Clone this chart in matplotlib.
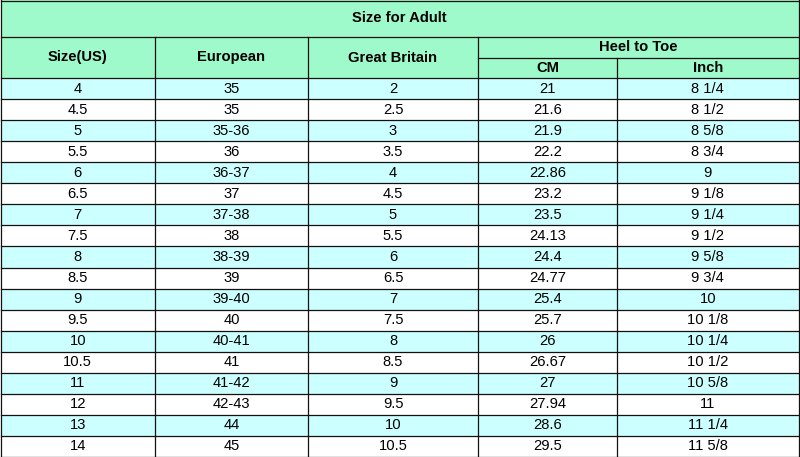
import matplotlib.pyplot as plt
from matplotlib.patches import Rectangle

title = "Size for Adult"
headers = ["Size(US)", "European", "Great Britain"]
group_header = "Heel to Toe"
sub_headers = ["CM", "Inch"]

size_us = ["4", "4.5", "5", "5.5", "6", "6.5", "7", "7.5", "8", "8.5", "9",
           "9.5", "10", "10.5", "11", "12", "13", "14"]
european = ["35", "35", "35-36", "36", "36-37", "37", "37-38", "38", "38-39",
            "39", "39-40", "40", "40-41", "41", "41-42", "42-43", "44", "45"]
great_britain = ["2", "2.5", "3", "3.5", "4", "4.5", "5", "5.5", "6", "6.5",
                 "7", "7.5", "8", "8.5", "9", "9.5", "10", "10.5"]
cm = ["21", "21.6", "21.9", "22.2", "22.86", "23.2", "23.5", "24.13", "24.4",
      "24.77", "25.4", "25.7", "26", "26.67", "27", "27.94", "28.6", "29.5"]
inch = ["8 1/4", "8 1/2", "8 5/8", "8 3/4", "9", "9 1/8", "9 1/4", "9 1/2",
        "9 5/8", "9 3/4", "10", "10 1/8", "10 1/4", "10 1/2", "10 5/8", "11",
        "11 1/4", "11 5/8"]

columns = [size_us, european, great_britain, cm, inch]

# layout in pixels
W, H = 800, 457
col_edges = [0.5, 155, 308, 478, 617, 798.5]
title_bottom = 37
sub_split = 57.5
header_bottom = 78
row_h = (H - header_bottom) / len(size_us)

green = "#9EFACA"
cyan = "#CCFFFF"

plt.rcParams['font.family'] = ['Liberation Sans', 'DejaVu Sans']

fig = plt.figure(figsize=(8, 4.57), dpi=100)
ax = fig.add_axes([0, 0, 1, 1])
ax.set_xlim(0, W)
ax.set_ylim(H, 0)
ax.axis('off')

x0, x1 = col_edges[0], col_edges[-1]

# backgrounds
ax.add_patch(Rectangle((x0, 0), x1 - x0, header_bottom, color=green, lw=0))
for i in range(len(size_us)):
    y = header_bottom + i * row_h
    fc = cyan if i % 2 == 0 else "white"
    ax.add_patch(Rectangle((x0, y), x1 - x0, row_h, color=fc, lw=0))

lw = 0.9
lc = '#111111'
# horizontal lines
ax.plot([x0, x1], [1, 1], color=lc, lw=lw)
ax.plot([x0, x1], [title_bottom, title_bottom], color=lc, lw=lw)
ax.plot([col_edges[3], x1], [sub_split, sub_split], color=lc, lw=lw)
for i in range(len(size_us) + 1):
    y = header_bottom + i * row_h
    y = min(y, H - 0.5)
    ax.plot([x0, x1], [y, y], color=lc, lw=lw)

# vertical lines
ax.plot([x0, x0], [0, H], color=lc, lw=lw)
ax.plot([x1, x1], [0, H], color=lc, lw=lw)
for j, x in enumerate(col_edges[1:-1]):
    top = sub_split if j == 3 else title_bottom
    ax.plot([x, x], [top, H], color=lc, lw=lw)

fs = 10.6
ax.text((x0 + x1) / 2, title_bottom / 2, title, ha='center', va='center',
        fontsize=fs, fontweight='bold')
for j, h in enumerate(headers):
    cx = (col_edges[j] + col_edges[j + 1]) / 2
    ax.text(cx, (title_bottom + header_bottom) / 2, h, ha='center',
            va='center', fontsize=fs, fontweight='bold')
ax.text((col_edges[3] + col_edges[5]) / 2, (title_bottom + sub_split) / 2,
        group_header, ha='center', va='center', fontsize=fs, fontweight='bold')
for j, h in enumerate(sub_headers):
    cx = (col_edges[3 + j] + col_edges[4 + j]) / 2
    ax.text(cx, (sub_split + header_bottom) / 2, h, ha='center', va='center',
            fontsize=fs, fontweight='bold')

for j, col in enumerate(columns):
    cx = (col_edges[j] + col_edges[j + 1]) / 2
    for i, v in enumerate(col):
        cy = header_bottom + (i + 0.5) * row_h
        ax.text(cx, cy, v, ha='center', va='center', fontsize=fs)

fig.savefig("out.png", dpi=100)
